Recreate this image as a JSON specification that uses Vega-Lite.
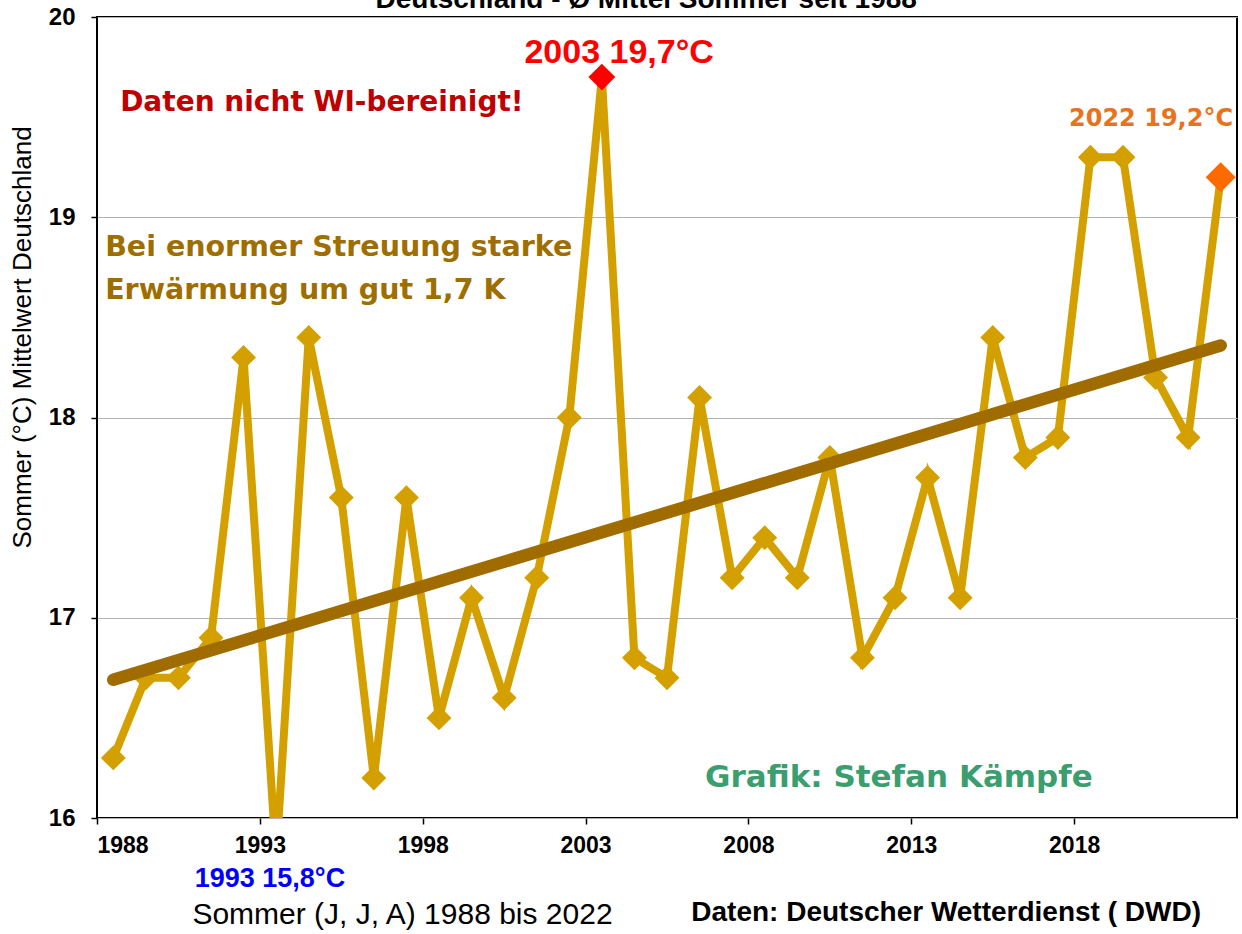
{
  "$schema": "https://vega.github.io/schema/vega-lite/v6.json",
  "width": 1140,
  "height": 801,
  "autosize": {"type": "none"},
  "padding": {"left": 97, "top": 17, "right": 5, "bottom": 116},
  "background": "white",
  "config": {
    "view": {"stroke": "black", "strokeWidth": 2},
    "font": "Liberation Sans"
  },
  "datasets": {
    "summer": [
      {"year": 1988, "temp": 16.3}, {"year": 1989, "temp": 16.7}, {"year": 1990, "temp": 16.7},
      {"year": 1991, "temp": 16.9}, {"year": 1992, "temp": 18.3}, {"year": 1993, "temp": 15.8},
      {"year": 1994, "temp": 18.4}, {"year": 1995, "temp": 17.6}, {"year": 1996, "temp": 16.2},
      {"year": 1997, "temp": 17.6}, {"year": 1998, "temp": 16.5}, {"year": 1999, "temp": 17.1},
      {"year": 2000, "temp": 16.6}, {"year": 2001, "temp": 17.2}, {"year": 2002, "temp": 18.0},
      {"year": 2003, "temp": 19.7}, {"year": 2004, "temp": 16.8}, {"year": 2005, "temp": 16.7},
      {"year": 2006, "temp": 18.1}, {"year": 2007, "temp": 17.2}, {"year": 2008, "temp": 17.4},
      {"year": 2009, "temp": 17.2}, {"year": 2010, "temp": 17.8}, {"year": 2011, "temp": 16.8},
      {"year": 2012, "temp": 17.1}, {"year": 2013, "temp": 17.7}, {"year": 2014, "temp": 17.1},
      {"year": 2015, "temp": 18.4}, {"year": 2016, "temp": 17.8}, {"year": 2017, "temp": 17.9},
      {"year": 2018, "temp": 19.3}, {"year": 2019, "temp": 19.3}, {"year": 2020, "temp": 18.2},
      {"year": 2021, "temp": 17.9}, {"year": 2022, "temp": 19.2}
    ],
    "trend": [
      {"year": 1988, "temp": 16.69},
      {"year": 2022, "temp": 18.36}
    ]
  },
  "encoding": {
    "x": {
      "field": "year", "type": "quantitative",
      "scale": {"domain": [1987.5, 2022.5], "nice": false, "zero": false},
      "axis": {
        "values": [1987.5, 1992.5, 1997.5, 2002.5, 2007.5, 2012.5, 2017.5],
        "labelExpr": "format(datum.value + 0.5, 'd')",
        "labelDx": 17,
        "grid": false,
        "domain": false,
        "tickColor": "black",
        "tickSize": 6,
        "tickWidth": 1.5,
        "labelFont": "Liberation Sans",
        "labelFontWeight": "bold",
        "labelFontSize": 23,
        "labelColor": "black",
        "labelPadding": 10,
        "title": "Sommer (J, J, A) 1988 bis 2022",
        "titleFont": "Liberation Sans",
        "titleFontWeight": "normal",
        "titleFontSize": 30,
        "titleColor": "black",
        "titleAnchor": null,
        "titleX": 305,
        "titleY": 96,
        "titleBaseline": "middle"
      }
    },
    "y": {
      "field": "temp", "type": "quantitative",
      "scale": {"domain": [16, 20], "nice": false, "zero": false},
      "axis": {
        "values": [16, 17, 18, 19, 20],
        "format": "d",
        "grid": true,
        "gridColor": "#b3b3b3",
        "gridWidth": 1,
        "domain": false,
        "tickColor": "black",
        "tickSize": 6,
        "tickWidth": 1.5,
        "labelFont": "Liberation Sans",
        "labelFontWeight": "bold",
        "labelFontSize": 24,
        "labelColor": "black",
        "labelPadding": 16,
        "title": "Sommer (°C) Mittelwert Deutschland",
        "titleFont": "Liberation Sans",
        "titleFontWeight": "normal",
        "titleFontSize": 26,
        "titleColor": "black",
        "titleAnchor": null,
        "titleX": -75,
        "titleY": 320,
        "titleBaseline": "middle",
        "titleAngle": -90
      }
    }
  },
  "layer": [
    {
      "data": {"name": "summer"},
      "mark": {"type": "line", "color": "#d4a000", "strokeWidth": 8, "clip": true, "strokeJoin": "miter"},
      "encoding": {}
    },
    {
      "data": {"name": "summer"},
      "transform": [{"filter": "datum.year != 2003 && datum.year != 2022"}],
      "mark": {"type": "point", "shape": "diamond", "filled": true, "color": "#d4a000", "opacity": 1, "size": 620, "clip": true},
      "encoding": {}
    },
    {
      "data": {"name": "summer"},
      "transform": [{"filter": "datum.year == 2003"}],
      "mark": {"type": "point", "shape": "diamond", "filled": true, "color": "#ff0000", "opacity": 1, "size": 720, "clip": true},
      "encoding": {}
    },
    {
      "data": {"name": "summer"},
      "transform": [{"filter": "datum.year == 2022"}],
      "mark": {"type": "point", "shape": "diamond", "filled": true, "color": "#ff6a00", "opacity": 1, "size": 900, "clip": true},
      "encoding": {}
    },
    {
      "data": {"name": "trend"},
      "mark": {"type": "line", "color": "#a06c00", "strokeWidth": 12.5, "strokeCap": "round"},
      "encoding": {}
    },
    {
      "data": {"values": [{"year": 2004.36, "temp": 20.045, "label": "Deutschland - Ø Mittel Sommer seit 1988"}]},
      "mark": {"type": "text", "font": "Liberation Sans", "fontWeight": "bold", "fontSize": 28, "color": "black", "align": "center", "baseline": "alphabetic"},
      "encoding": {"text": {"field": "label"}}
    },
    {
      "data": {"values": [{"year": 2003.53, "temp": 19.82, "label": "2003 19,7°C"}]},
      "mark": {"type": "text", "font": "Liberation Sans", "fontWeight": "bold", "fontSize": 34, "color": "#ff0000", "align": "center", "baseline": "middle"},
      "encoding": {"text": {"field": "label"}}
    },
    {
      "data": {"values": [{"year": 1988.21, "temp": 19.57, "label": "Daten nicht WI-bereinigt!"}]},
      "mark": {"type": "text", "font": "DejaVu Sans", "fontWeight": "bold", "fontSize": 28, "color": "#c00000", "align": "left", "baseline": "middle"},
      "encoding": {"text": {"field": "label"}}
    },
    {
      "data": {"values": [{"year": 2019.86, "temp": 19.49, "label": "2022 19,2°C"}]},
      "mark": {"type": "text", "font": "DejaVu Sans", "fontWeight": "bold", "fontSize": 24, "color": "#e8731c", "align": "center", "baseline": "middle"},
      "encoding": {"text": {"field": "label"}}
    },
    {
      "data": {"values": [
        {"year": 1987.75, "temp": 18.85, "label": "Bei enormer Streuung starke"},
        {"year": 1987.75, "temp": 18.637, "label": "Erwärmung um gut 1,7 K"}
      ]},
      "mark": {"type": "text", "font": "DejaVu Sans", "fontWeight": "bold", "fontSize": 28.5, "color": "#9e6e00", "align": "left", "baseline": "middle"},
      "encoding": {"text": {"field": "label"}}
    },
    {
      "data": {"values": [{"year": 2012.12, "temp": 16.2, "label": "Grafik: Stefan Kämpfe"}]},
      "mark": {"type": "text", "font": "DejaVu Sans", "fontWeight": "bold", "fontSize": 31, "color": "#3a9e6e", "align": "center", "baseline": "middle"},
      "encoding": {"text": {"field": "label"}}
    },
    {
      "data": {"values": [{"year": 1992.81, "temp": 15.695, "label": "1993 15,8°C"}]},
      "mark": {"type": "text", "font": "Liberation Sans", "fontWeight": "bold", "fontSize": 27, "color": "#0000ff", "align": "center", "baseline": "middle", "clip": false},
      "encoding": {"text": {"field": "label"}}
    },
    {
      "data": {"values": [{"year": 2013.57, "temp": 15.526, "label": "Daten: Deutscher Wetterdienst ( DWD)"}]},
      "mark": {"type": "text", "font": "Liberation Sans", "fontWeight": "bold", "fontSize": 28, "color": "black", "align": "center", "baseline": "middle", "clip": false},
      "encoding": {"text": {"field": "label"}}
    }
  ]
}
